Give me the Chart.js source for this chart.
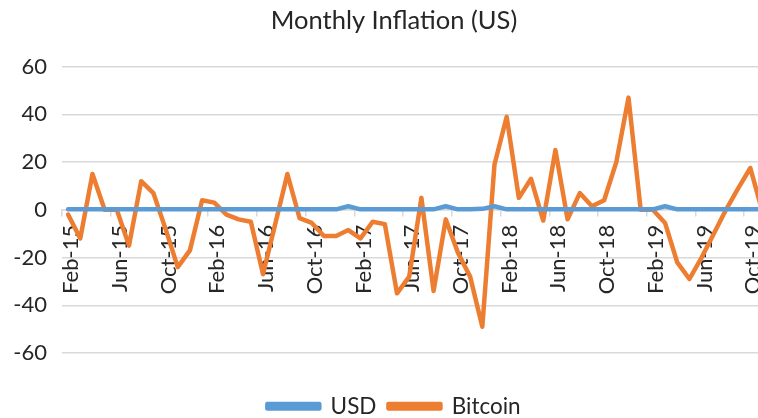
<!DOCTYPE html>
<html>
<head>
<meta charset="utf-8">
<script src="https://cdn.jsdelivr.net/npm/chart.js@4.4.1/dist/chart.umd.min.js"></script>
<style>
  html, body { margin: 0; padding: 0; overflow: hidden; background: #ffffff; width: 758px; height: 418px; }
  #wrap { width: 798px; height: 418px; position: relative; }
</style>
</head>
<body>
<div id="wrap"><canvas id="c"></canvas></div>
<script>
const months = [
  'Feb-15','Mar-15','Apr-15','May-15','Jun-15','Jul-15','Aug-15','Sep-15','Oct-15','Nov-15','Dec-15',
  'Jan-16','Feb-16','Mar-16','Apr-16','May-16','Jun-16','Jul-16','Aug-16','Sep-16','Oct-16','Nov-16','Dec-16',
  'Jan-17','Feb-17','Mar-17','Apr-17','May-17','Jun-17','Jul-17','Aug-17','Sep-17','Oct-17','Nov-17','Dec-17',
  'Jan-18','Feb-18','Mar-18','Apr-18','May-18','Jun-18','Jul-18','Aug-18','Sep-18','Oct-18','Nov-18','Dec-18',
  'Jan-19','Feb-19','Mar-19','Apr-19','May-19','Jun-19','Jul-19','Aug-19','Sep-19','Oct-19','Nov-19'
];
const usd = [
  0.2,0.2,0.2,0.2,0.2,0.2,0.2,0.2,0.2,0.2,0.2,
  0.2,0.2,0.2,0.2,0.2,0.2,0.2,0.2,0.2,0.2,0.2,0.2,
  1.5,0.2,0.2,0.2,0.2,0.2,0.2,0.2,1.5,0.2,0.2,0.4,
  1.5,0.2,0.2,0.2,0.2,0.2,0.2,0.2,0.2,0.2,0.2,0.2,
  0.2,0.2,1.5,0.2,0.2,0.2,0.2,0.2,0.2,0.2,0.2
];
const bitcoin = [
  -2,-12,15,0,0,-15,12,7,-8,-24,-17,
  4,3,-2,-4,-5,-27,-6,15,-3.5,-5.5,-11,-11,
  -8.5,-12,-5,-6,-35,-28,5,-34,-4,-18,-28,-49,
  19,39,5,13,-4.5,25,-4,7,1.5,4,20,47,
  0,0,-5.5,-22,-29,-20,-10,0,9,17.5,-1
];
const seriesNames = ['USD', 'Bitcoin'];
const seriesColors = ['#5b9bd5', '#ed7d31'];
const yMin = -60, yMax = 60, yStep = 20;
const labelEvery = 4;
const titleText = 'Monthly Inflation (US)';

const FONT = 'Lato, "Noto Sans", sans-serif';
const TEXT = '#262626';

new Chart(document.getElementById('c'), {
  type: 'line',
  data: {
    labels: months,
    datasets: [
      { label: seriesNames[0], data: usd, borderColor: seriesColors[0], backgroundColor: seriesColors[0],
        borderWidth: 4.5, pointRadius: 0, tension: 0, borderCapStyle: 'round', borderJoinStyle: 'round' },
      { label: seriesNames[1], data: bitcoin, borderColor: seriesColors[1], backgroundColor: seriesColors[1],
        borderWidth: 4.5, pointRadius: 0, tension: 0, borderCapStyle: 'round', borderJoinStyle: 'round' }
    ]
  },
  options: {
    responsive: true,
    maintainAspectRatio: false,
    animation: false,
    devicePixelRatio: 1,
    layout: { padding: { top: 2, right: 10, bottom: 0, left: 0 } },
    plugins: {
      title: {
        display: true, text: titleText, color: TEXT,
        font: { family: FONT, size: 25.5, weight: 'normal', lineHeight: 1.2 },
        padding: { top: 3, bottom: 31 }
      },
      legend: {
        position: 'bottom',
        maxHeight: 65,
        title: { display: true, text: '', padding: 0, font: { size: 30, lineHeight: 1 } },
        labels: {
          color: TEXT, font: { family: FONT, size: 22.5 },
          boxWidth: 52, boxHeight: 4.5, padding: 12
        }
      },
      tooltip: { enabled: false }
    },
    scales: {
      x: {
        type: 'category',
        position: { y: 0 },
        offset: true,
        border: { display: true, color: '#d9d9d9', width: 1.5 },
        grid: {
          offset: true, drawOnChartArea: false, drawTicks: true, tickLength: 6,
          color: (ctx) => (ctx.index % labelEvery === 0 ? '#d9d9d9' : 'rgba(0,0,0,0)'),
          lineWidth: 1.5
        },
        ticks: {
          autoSkip: false, minRotation: 90, maxRotation: 90, padding: 9, labelOffset: 3,
          color: TEXT, font: { family: FONT, size: 22 },
          callback: function (value, index) { return index % labelEvery === 0 ? this.getLabelForValue(value) : ''; }
        }
      },
      y: {
        min: yMin, max: yMax,
        afterFit: (scale) => { scale.width = 62; },
        border: { display: false },
        grid: { color: '#d9d9d9', lineWidth: 1.5, drawTicks: false },
        ticks: { stepSize: yStep, padding: 15, color: TEXT, font: { family: FONT, size: 22 } }
      }
    }
  }
});
</script>
</body>
</html>
